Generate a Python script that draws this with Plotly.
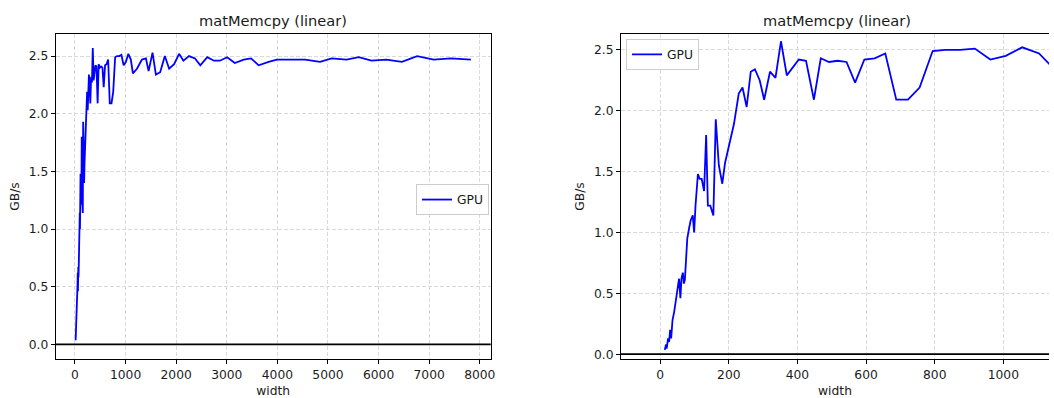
import plotly.graph_objects as go

# Measured copy bandwidth (GB/s) versus matrix width
width = [13.5, 17, 19, 23, 26, 29, 32, 36, 41, 45, 50, 55, 59, 62, 66, 69, 72, 79, 84, 89,
         95, 99, 103, 110, 115, 121, 128, 134, 139, 146, 155, 162, 171, 181, 189, 200, 215,
         229, 240, 252, 264, 276, 290, 303, 320, 336, 352, 369, 404, 425, 448, 468, 492,
         517, 543, 568, 595, 625, 656, 688, 722, 756, 794, 831, 874, 917, 962, 1007, 1055,
         1104, 1145, 1225, 1324, 1402, 1455, 1533, 1599, 1684, 1776, 1861, 1959, 2058,
         2143, 2254, 2372, 2477, 2615, 2746, 2864, 3008, 3159, 3336, 3480, 3630, 3827,
         3991, 4286, 4548, 4843, 5072, 5367, 5609, 5858, 6153, 6461, 6762, 7090, 7431, 7824]
gbps = [0.035, 0.08, 0.045, 0.13, 0.10, 0.20, 0.13, 0.28, 0.35, 0.42, 0.51, 0.62, 0.46, 0.62,
        0.67, 0.58, 0.61, 0.95, 1.03, 1.10, 1.14, 1.00, 1.22, 1.48, 1.44, 1.44, 1.34, 1.80,
        1.22, 1.22, 1.14, 1.93, 1.55, 1.40, 1.57, 1.70, 1.89, 2.14, 2.19, 2.03, 2.32, 2.34,
        2.25, 2.09, 2.32, 2.27, 2.57, 2.29, 2.42, 2.41, 2.09, 2.43, 2.40, 2.41, 2.40, 2.23,
        2.42, 2.43, 2.47, 2.09, 2.09, 2.19, 2.49, 2.50, 2.50, 2.51, 2.42, 2.45, 2.52, 2.47,
        2.35, 2.39, 2.47, 2.48, 2.37, 2.53, 2.34, 2.36, 2.50, 2.39, 2.43, 2.52, 2.46, 2.50,
        2.48, 2.42, 2.49, 2.46, 2.46, 2.49, 2.44, 2.47, 2.48, 2.42, 2.45, 2.47, 2.47, 2.47,
        2.45, 2.48, 2.47, 2.49, 2.46, 2.47, 2.45, 2.50, 2.47, 2.48, 2.47]

y_ticks = [0, 0.5, 1.0, 1.5, 2.0, 2.5]
y_ticktext = ["0.0", "0.5", "1.0", "1.5", "2.0", "2.5"]
x_ticks_full = [0, 1000, 2000, 3000, 4000, 5000, 6000, 7000, 8000]
x_ticks_zoom = [0, 200, 400, 600, 800, 1000]

title_text = "matMemcpy (linear)"
series_name = "GPU"
x_label = "width"
y_label = "GB/s"

W, H = 1054, 398
FONT = "DejaVu Sans"
GRID = "#dadada"
TXT = "#1a1a1a"

def px(v):
    return v / W

def py(v):
    return 1 - v / H

fig = go.Figure()

fig.add_trace(go.Scatter(x=width, y=gbps, mode="lines", name=series_name,
                         line=dict(color="#0000ff", width=1.8),
                         xaxis="x", yaxis="y", legend="legend"))
fig.add_trace(go.Scatter(x=width, y=gbps, mode="lines", name=series_name,
                         line=dict(color="#0000ff", width=1.8),
                         xaxis="x2", yaxis="y2", legend="legend2"))

axis_common = dict(
    showgrid=True, gridcolor=GRID, griddash="4px,2px", gridwidth=1,
    zeroline=False, showline=True, linecolor="black", linewidth=1,
    ticks="outside", ticklen=4, tickwidth=1, tickcolor="black",
    tickfont=dict(family=FONT, size=12.3, color=TXT),
)

y_dom = [py(361), py(34)]

fig.update_layout(
    width=W, height=H,
    margin=dict(l=0, r=0, t=0, b=0),
    paper_bgcolor="white", plot_bgcolor="white",
    font=dict(family=FONT, size=12, color=TXT),
    xaxis=dict(domain=[px(56), px(493)], range=[-380, 8215], tickvals=x_ticks_full,
               mirror=True, anchor="y",
               title=dict(text=x_label, standoff=7, font=dict(family=FONT, size=12.3)),
               **axis_common),
    yaxis=dict(domain=y_dom, range=[-0.129, 2.693], tickvals=y_ticks,
               ticktext=y_ticktext, mirror=True, anchor="x",
               title=dict(text=y_label, standoff=6, font=dict(family=FONT, size=12.3)),
               **axis_common),
    xaxis2=dict(domain=[px(624), 1.0], range=[-114, 1133], tickvals=x_ticks_zoom,
                mirror=True, anchor="y2",
                title=dict(text=x_label, standoff=7, font=dict(family=FONT, size=12.3)),
                **axis_common),
    yaxis2=dict(domain=y_dom, range=[-0.041, 2.631], tickvals=y_ticks,
                ticktext=y_ticktext, mirror=False, anchor="x2",
                title=dict(text=y_label, standoff=6, font=dict(family=FONT, size=12.3)),
                **axis_common),
    legend=dict(x=px(418), y=py(185), xanchor="left", yanchor="top",
                bgcolor="rgba(255,255,255,0.8)", bordercolor="#cccccc", borderwidth=1,
                font=dict(family=FONT, size=12.3, color=TXT)),
    legend2=dict(x=px(629), y=py(39), xanchor="left", yanchor="top",
                 bgcolor="rgba(255,255,255,0.8)", bordercolor="#cccccc", borderwidth=1,
                 font=dict(family=FONT, size=12.3, color=TXT)),
    showlegend=True,
)

# Reference line at zero bandwidth across each panel
for xr, yr in (("x domain", "y"), ("x2 domain", "y2")):
    fig.add_shape(type="line", xref=xr, yref=yr, x0=0, x1=1, y0=0, y1=0,
                  line=dict(color="black", width=1.8))

# Panel titles
for xc in (274.6, 841.3):
    fig.add_annotation(text=title_text, x=px(xc), y=py(20.7), xref="paper", yref="paper",
                       xanchor="center", yanchor="middle", showarrow=False,
                       font=dict(family=FONT, size=14.6, color=TXT))

fig.write_html("out.html")
